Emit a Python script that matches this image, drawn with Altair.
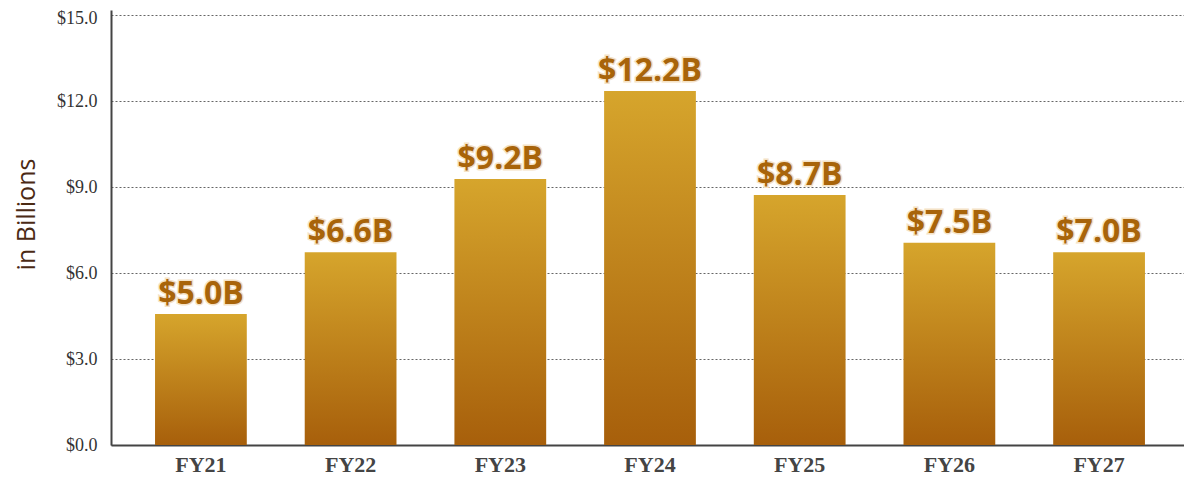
import altair as alt
import pandas as pd

categories = ["FY21", "FY22", "FY23", "FY24", "FY25", "FY26", "FY27"]
bar_values = [4.57, 6.73, 9.28, 12.35, 8.72, 7.06, 6.73]
bar_labels = ["$5.0B", "$6.6B", "$9.2B", "$12.2B", "$8.7B", "$7.5B", "$7.0B"]
y_ticks = [0, 3, 6, 9, 12, 15]

df = pd.DataFrame({"fy": categories, "value": bar_values, "label": bar_labels})

x_enc = alt.X(
    "fy:N",
    sort=categories,
    scale=alt.Scale(paddingInner=0.387, paddingOuter=0.2775, align=0.53),
    axis=alt.Axis(
        title=None,
        labelAngle=0,
        labelFont="Liberation Serif",
        labelFontWeight="bold",
        labelFontSize=22,
        labelColor="#444444",
        labelPadding=9,
        ticks=False,
        domainColor="#444444",
        domainWidth=2,
        grid=False,
    ),
)

y_enc = alt.Y(
    "value:Q",
    scale=alt.Scale(domain=[0, 15.18], nice=False, zero=True),
    axis=alt.Axis(
        title="in Billions",
        values=y_ticks,
        labelExpr="'$' + format(datum.value, '.1f')",
        labelFont="Liberation Serif",
        labelFontSize=18,
        labelColor="#333333",
        labelPadding=14,
        labelOffset={"condition": {"test": "datum.value === 15", "value": 3}, "value": 0},
        ticks=False,
        domainColor="#444444",
        domainWidth=2,
        grid=True,
        gridColor="#666666",
        gridDash=[2, 2],
        gridWidth=1,
        titleFont="Open Sans",
        titleFontSize=25,
        titleFontWeight="normal",
        titleColor="#4B2A14",
        titleAngle=-90,
        titleAlign="center",
        titleBaseline="middle",
        titleX=-85,
        titleY=204,
    ),
)

bars = alt.Chart(df).mark_bar(
    color=alt.Gradient(
        gradient="linear",
        x1=0, y1=0, x2=0, y2=1,
        stops=[
            alt.GradientStop(color="#D6A52C", offset=0),
            alt.GradientStop(color="#A75F0B", offset=1),
        ],
    )
).encode(x=x_enc, y=y_enc)

halo = alt.Chart(df).mark_text(
    font="Open Sans",
    fontWeight="bold",
    fontSize=32,
    baseline="alphabetic",
    dy=-10,
    color="#A8640A",
    stroke="#F4E2C6",
    strokeWidth=3,
).encode(x=alt.X("fy:N", sort=categories), y="value:Q", text="label:N")

text = alt.Chart(df).mark_text(
    font="Open Sans",
    fontWeight="bold",
    fontSize=32,
    baseline="alphabetic",
    dy=-10,
    color="#A8640A",
).encode(x=alt.X("fy:N", sort=categories), y="value:Q", text="label:N")

chart = (
    alt.layer(bars, halo, text)
    .properties(
        width=1073,
        height=435,
        autosize=alt.AutoSizeParams(type="none"),
        padding={"left": 103, "top": 2, "right": 0, "bottom": 33},
    )
    .configure_view(stroke=None)
)

chart.save("out.html", embed_options={"renderer": "svg", "actions": False})
